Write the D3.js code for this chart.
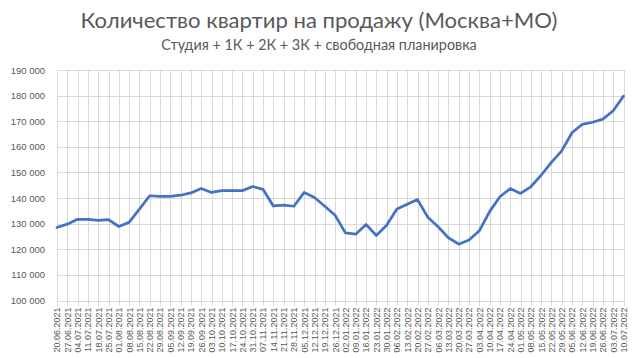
<!DOCTYPE html>
<html><head><meta charset="utf-8">
<script src="https://cdn.jsdelivr.net/npm/d3@7"></script>
<style>html,body{margin:0;padding:0;background:#fff;}svg{display:block;}</style>
</head><body>
<svg id="c" width="638" height="358"></svg>
<script>
const titleText = "Количество квартир на продажу (Москва+МО)";
const subtitleText = "Студия + 1К + 2К + 3К + свободная планировка";
const dates = ["20.06.2021","27.06.2021","04.07.2021","11.07.2021","18.07.2021","25.07.2021","01.08.2021","08.08.2021","15.08.2021","22.08.2021","29.08.2021","05.09.2021","12.09.2021","19.09.2021","26.09.2021","03.10.2021","10.10.2021","17.10.2021","24.10.2021","31.10.2021","07.11.2021","14.11.2021","21.11.2021","28.11.2021","05.12.2021","12.12.2021","19.12.2021","26.12.2021","02.01.2022","09.01.2022","16.01.2022","23.01.2022","30.01.2022","06.02.2022","13.02.2022","20.02.2022","27.02.2022","06.03.2022","13.03.2022","20.03.2022","27.03.2022","03.04.2022","10.04.2022","17.04.2022","24.04.2022","01.05.2022","08.05.2022","15.05.2022","22.05.2022","29.05.2022","05.06.2022","12.06.2022","19.06.2022","26.06.2022","03.07.2022","10.07.2022"];
const values = [128500,129800,131700,131700,131300,131600,128900,130500,135700,140900,140700,140700,141100,142000,143700,142200,142900,142900,142900,144500,143400,136900,137200,136800,142200,140200,136800,133300,126400,125900,129700,125400,129400,135700,137600,139400,132500,128800,124500,122000,123600,127200,134700,140500,143700,141800,144400,148900,153900,158400,165500,168800,169600,170800,174100,179800];
const yTicks = [100000,110000,120000,130000,140000,150000,160000,170000,180000,190000];

(function () {
const svg = d3.select("#c");
const font = "'Liberation Sans', Arial, sans-serif";
const grey = "#595959";
const pLeft = 57, pRight = 623.5, pTop = 70, pBottom = 300.5;

const x = d3.scalePoint().domain(dates).range([pLeft, pRight]);
const y = d3.scaleLinear().domain([100000, 190000]).range([pBottom, pTop]);

const g = svg.append("g");
g.selectAll("line.h").data(yTicks).join("line").attr("class", "h")
  .attr("x1", pLeft).attr("x2", pRight + 0.5)
  .attr("y1", d => Math.round(y(d)) + 0.5).attr("y2", d => Math.round(y(d)) + 0.5)
  .attr("stroke", "#d9d9d9").attr("stroke-width", 1);
g.selectAll("line.v").data(dates).join("line").attr("class", "v")
  .attr("x1", d => Math.round(x(d)) + 0.5).attr("x2", d => Math.round(x(d)) + 0.5)
  .attr("y1", pTop).attr("y2", pBottom + 5)
  .attr("stroke", "#d9d9d9").attr("stroke-width", 1);

const fmt = v => d3.format(",")(v).replace(/,/g, " ");
const yAxis = d3.axisLeft(y).tickValues(yTicks).tickSize(0).tickPadding(12).tickFormat(fmt);
const ya = svg.append("g").attr("transform", `translate(${pLeft},0)`).call(yAxis);
ya.select(".domain").remove();
ya.selectAll("text").attr("fill", grey).style("font-family", font).style("font-size", "9.5px");

const xAxis = d3.axisBottom(x).tickSize(0).tickPadding(0);
const xa = svg.append("g").attr("transform", `translate(0,${pBottom})`).call(xAxis);
xa.select(".domain").remove();
xa.selectAll("text")
  .attr("fill", grey).style("font-family", font).style("font-size", "9px")
  .attr("text-anchor", "end")
  .attr("transform", "rotate(-90)")
  .attr("x", -7).attr("y", 0).attr("dy", "0.33em");

const line = d3.line().x((d, i) => x(dates[i])).y(d => y(d));
svg.append("path").datum(values)
  .attr("d", line).attr("fill", "none")
  .attr("stroke", "#4472C4").attr("stroke-width", 2.75)
  .attr("stroke-linejoin", "round").attr("stroke-linecap", "round");

function fitText(sel, targetW) {
  const w = sel.node().getComputedTextLength();
  const fs = parseFloat(sel.style("font-size"));
  sel.style("font-size", (fs * targetW / w) + "px");
}
const t = svg.append("text").attr("x", 319).attr("y", 28).attr("text-anchor", "middle")
  .attr("fill", grey).style("font-family", "Lato, 'Open Sans', sans-serif").style("font-size", "20px")
  .text(titleText);
fitText(t, 477);
const st = svg.append("text").attr("x", 319).attr("y", 50).attr("text-anchor", "middle")
  .attr("fill", grey).style("font-family", "Lato, 'Open Sans', sans-serif").style("font-size", "13px")
  .text(subtitleText);
fitText(st, 316);
})();
</script>
</body></html>
